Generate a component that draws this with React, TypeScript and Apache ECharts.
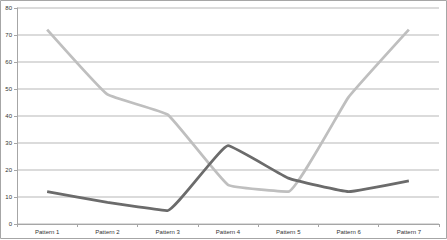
import React, { useEffect, useRef } from "react";
import * as echarts from "echarts";

const categories = ["Pattern 1", "Pattern 2", "Pattern 3", "Pattern 4", "Pattern 5", "Pattern 6", "Pattern 7"];
const lightSeries = [72, 48, 40.5, 14.5, 12, 47, 72];
const darkSeries = [12, 8, 5, 29, 17, 12, 16];

export default function App() {
  const ref = useRef<HTMLDivElement>(null);
  useEffect(() => {
    if (!ref.current) return;
    const chart = echarts.init(ref.current, null, { renderer: "svg" });
    chart.setOption({
      animation: false,
      backgroundColor: "#ffffff",
      graphic: [
        {
          type: "rect",
          shape: { x: 0.5, y: 0.5, width: 446, height: 238 },
          style: { fill: "none", stroke: "#a6a6a6", lineWidth: 1 },
          z: 100,
        },
      ],
      grid: { left: 17, right: 8, top: 8, bottom: 16, containLabel: false },
      xAxis: {
        type: "category",
        data: categories,
        boundaryGap: true,
        axisLine: { lineStyle: { color: "#a6a6a6", width: 1 } },
        axisTick: { show: true, length: 3, lineStyle: { color: "#a6a6a6" } },
        axisLabel: { fontSize: 6, color: "#333", fontFamily: "Liberation Sans", margin: 5 },
        splitLine: { show: false },
      },
      yAxis: {
        type: "value",
        min: 0,
        max: 80,
        interval: 10,
        axisLine: { show: true, lineStyle: { color: "#a6a6a6", width: 1 } },
        axisTick: { show: true, length: 3, lineStyle: { color: "#a6a6a6" } },
        axisLabel: { fontSize: 6, color: "#333", fontFamily: "Liberation Sans", margin: 5 },
        splitLine: { show: true, lineStyle: { color: "#cfcfcf", width: 1.5 } },
      },
      series: [
        {
          type: "line",
          data: lightSeries,
          smooth: 0.1,
          symbol: "none",
          lineStyle: { color: "#bfbfbf", width: 2.75 },
        },
        {
          type: "line",
          data: darkSeries,
          smooth: 0.1,
          symbol: "none",
          lineStyle: { color: "#6b6b6b", width: 2.75 },
        },
      ],
    });
    return () => chart.dispose();
  }, []);
  return (
    <div
      ref={ref}
      style={{ position: "absolute", left: 0, top: 0, width: 447, height: 240 }}
    />
  );
}
